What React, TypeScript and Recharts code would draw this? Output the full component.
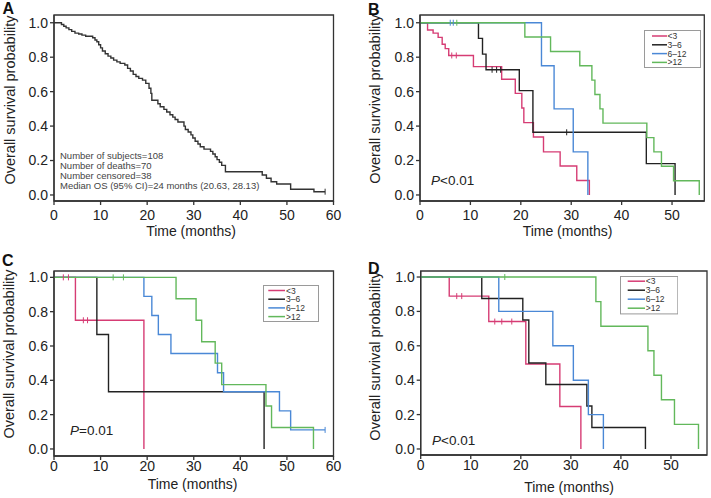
import React from 'react';
import { LineChart, Line, XAxis, YAxis, ReferenceArea, Legend } from 'recharts';

const FONT = '"Liberation Sans", Arial, Helvetica, sans-serif';

const COLOR_LT3 = '#d63c74';
const COLOR_3_6 = '#222222';
const COLOR_6_12 = '#4a88d6';
const COLOR_GT12 = '#62b85b';
const COLOR_ALL = '#333333';

const Y_TICKS = [0, 0.2, 0.4, 0.6, 0.8, 1.0];
const X_TICKS_60 = [0, 10, 20, 30, 40, 50, 60];
const X_TICKS_50 = [0, 10, 20, 30, 40, 50];
const GROUP_NAMES = ['<3', '3\u20136', '6\u201312', '>12'];

// ---------- Panel A (all patients) ----------
const aTimes = [0, 1.6, 2.1, 2.6, 3.2, 3.8, 4.5, 5.3, 6.0, 6.8, 8.3, 8.8, 9.2, 9.6, 10.0, 10.4, 11.0, 11.6, 12.2, 12.8, 13.5, 14.2, 15.2, 15.8, 16.4, 17.0, 17.6, 18.2, 19.0, 19.7, 20.4, 20.8, 21.0, 22.3, 22.8, 23.6, 24.2, 24.9, 25.5, 26.0, 26.6, 27.9, 28.2, 28.8, 29.4, 29.8, 30.3, 30.9, 31.4, 32.2, 33.6, 34.1, 34.6, 35.0, 35.5, 36.0, 36.8, 44.7, 45.6, 46.6, 47.8, 50.8, 55.8];
const aSurv = [1.0, 0.99, 0.98, 0.97, 0.96, 0.95, 0.94, 0.935, 0.928, 0.922, 0.913, 0.9, 0.89, 0.872, 0.854, 0.836, 0.82, 0.806, 0.795, 0.783, 0.773, 0.764, 0.755, 0.735, 0.72, 0.7, 0.688, 0.677, 0.667, 0.648, 0.62, 0.59, 0.55, 0.53, 0.512, 0.497, 0.482, 0.466, 0.452, 0.438, 0.424, 0.4, 0.38, 0.366, 0.349, 0.331, 0.312, 0.296, 0.28, 0.266, 0.253, 0.238, 0.222, 0.205, 0.19, 0.172, 0.135, 0.116, 0.097, 0.077, 0.064, 0.033, 0.019];
const aCensored = [58.2];

// ---------- Panel B ----------
const bLt3Times = [0, 1.5, 2.6, 3.6, 4.4, 5.0, 5.7, 10.6, 16.2, 18.9, 20.2, 20.6, 22.5, 24.5, 27.8, 31.1, 33.6];
const bLt3Surv = [1, 0.958, 0.94, 0.915, 0.875, 0.85, 0.81, 0.745, 0.672, 0.59, 0.505, 0.42, 0.337, 0.25, 0.168, 0.084, 0];
const bLt3Cens = [6.3, 7.2];
const b36Times = [0, 11.6, 12.4, 13.1, 19.7, 22.4, 44.9, 50.6];
const b36Surv = [1, 0.909, 0.818, 0.727, 0.606, 0.364, 0.182, 0];
const b36Cens = [14.3, 15.2, 16.0, 29.1];
const b612Times = [0, 24.1, 26.6, 30.4, 33.3];
const b612Surv = [1, 0.75, 0.5, 0.25, 0];
const b612Cens = [6.0, 6.6];
const bGt12Times = [0, 20.8, 25.9, 31.7, 34.1, 34.7, 35.7, 36.3, 45.0, 46.4, 47.9, 50.3, 55.4];
const bGt12Surv = [1, 0.917, 0.833, 0.75, 0.667, 0.583, 0.5, 0.417, 0.333, 0.25, 0.167, 0.083, 0];
const bGt12Cens = [7.3];

// ---------- Panel C ----------
const cLt3Times = [0, 4.6, 19.3];
const cLt3Surv = [1, 0.75, 0];
const cLt3Cens = [2.0, 3.1, 6.3, 7.2];
const c36Times = [0, 9.2, 11.7, 45.1];
const c36Surv = [1, 0.667, 0.333, 0];
const c36Cens: number[] = [];
const c612Times = [0, 19.3, 21.0, 22.4, 25.1, 35.1, 36.4, 48.4, 50.8];
const c612Surv = [1, 0.889, 0.778, 0.667, 0.556, 0.444, 0.333, 0.222, 0.111];
const c612Cens = [58.2];
const cGt12Times = [0, 26.2, 30.5, 31.7, 34.6, 36.0, 45.5, 46.7, 55.7];
const cGt12Surv = [1, 0.875, 0.75, 0.625, 0.5, 0.375, 0.25, 0.125, 0];
const cGt12Cens = [12.7, 14.9];

// ---------- Panel D ----------
const dLt3Times = [0, 5.7, 13.6, 21.0, 27.8, 32.0];
const dLt3Surv = [1, 0.889, 0.741, 0.494, 0.247, 0];
const dLt3Cens = [7.2, 8.2, 14.8, 16.2, 18.2];
const d36Times = [0, 12.2, 20.4, 21.6, 25.0, 33.2, 34.2, 44.9];
const d36Surv = [1, 0.875, 0.75, 0.5, 0.375, 0.25, 0.125, 0];
const d36Cens: number[] = [];
const d612Times = [0, 15.6, 26.4, 30.5, 33.5, 36.5];
const d612Surv = [1, 0.8, 0.6, 0.4, 0.2, 0];
const d612Cens: number[] = [];
const dGt12Times = [0, 35.0, 36.0, 45.4, 46.6, 48.1, 50.7, 55.5];
const dGt12Surv = [1, 0.857, 0.714, 0.571, 0.429, 0.286, 0.143, 0];
const dGt12Cens = [16.8];

type Pt = { t: number; s: number; c?: boolean };

function km(times: number[], surv: number[], cens: number[] = []): Pt[] {
  const pts: Pt[] = times.map((t, i) => ({ t, s: surv[i] }));
  cens.forEach((ct) => {
    let s = surv[0];
    for (let i = 0; i < times.length; i++) if (times[i] <= ct) s = surv[i];
    pts.push({ t: ct, s, c: true });
  });
  return pts.sort((a, b) => a.t - b.t);
}

type Series = { name: string; color: string; data: Pt[] };

const censorDot = (color: string) => (props: any) => {
  const { cx, cy, payload, index } = props;
  if (!payload || !payload.c) return <g key={`e${index}`} />;
  return (
    <line key={`c${index}`} x1={cx} x2={cx} y1={cy - 3} y2={cy + 3} stroke={color} strokeWidth={1} />
  );
};

type LegendCfg = { x: number; y: number; w: number; h: number; y0: number; dy: number; lx1: number; lx2: number; tx: number };

type PanelProps = {
  left: number; top: number; w: number; h: number;
  margin: { top: number; right: number; bottom: number; left: number };
  yW: number; xH: number; xTickGap: number;
  xDomain: [number, number]; xTicks: number[];
  yDomain: [number, number];
  series: Series[];
  legend?: LegendCfg;
};

function Panel(p: PanelProps) {
  const axisStyle = { stroke: '#333', strokeWidth: 1.3 };
  const tickStyle = { fill: '#222', fontSize: 14, fontFamily: FONT };
  return (
    <div style={{ position: 'absolute', left: p.left, top: p.top }}>
      <LineChart width={p.w} height={p.h} margin={p.margin}>
        <XAxis
          type="number"
          dataKey="t"
          domain={p.xDomain}
          ticks={p.xTicks}
          allowDataOverflow
          interval={0}
          height={p.xH}
          tickSize={4}
          tickMargin={p.xTickGap}
          tick={tickStyle}
          axisLine={axisStyle}
          tickLine={axisStyle}
        />
        <YAxis
          type="number"
          dataKey="s"
          domain={p.yDomain}
          ticks={Y_TICKS}
          allowDataOverflow
          interval={0}
          width={p.yW}
          tickSize={4}
          tickMargin={2}
          tickFormatter={(v: number) => v.toFixed(1)}
          tick={tickStyle}
          axisLine={axisStyle}
          tickLine={axisStyle}
        />
        <ReferenceArea
          x1={p.xDomain[0]}
          x2={p.xDomain[1]}
          y1={p.yDomain[0]}
          y2={p.yDomain[1]}
          fill="none"
          stroke="#333"
          strokeWidth={1.3}
          ifOverflow="visible"
        />
        {p.series.map((s) => (
          <Line
            key={s.name}
            name={s.name}
            data={s.data}
            dataKey="s"
            type="stepAfter"
            stroke={s.color}
            strokeWidth={1.4}
            dot={censorDot(s.color)}
            activeDot={false}
            isAnimationActive={false}
          />
        ))}
        {p.legend && (
          <Legend
            layout="vertical"
            align="center"
            verticalAlign="middle"
            wrapperStyle={{ left: p.legend.x, top: p.legend.y, width: p.legend.w, height: p.legend.h, margin: 0, padding: 0 }}
            content={() => {
              const L = p.legend as LegendCfg;
              return (
                <svg width={L.w} height={L.h} style={{ display: 'block' }}>
                  <rect x={0.5} y={0.5} width={L.w - 1} height={L.h - 1} fill="#fff" stroke="#9a9a9a" strokeWidth={1} />
                  {p.series.map((s, i) => (
                    <g key={s.name}>
                      <line x1={L.lx1} x2={L.lx2} y1={L.y0 + i * L.dy} y2={L.y0 + i * L.dy} stroke={s.color} strokeWidth={1.5} />
                      <text x={L.tx} y={L.y0 + i * L.dy + 3} fontSize={8.5} fill="#333" fontFamily={FONT}>{s.name}</text>
                    </g>
                  ))}
                </svg>
              );
            }}
          />
        )}
      </LineChart>
    </div>
  );
}

const seriesA: Series[] = [{ name: 'All', color: COLOR_ALL, data: km(aTimes, aSurv, aCensored) }];
const seriesB: Series[] = [
  { name: GROUP_NAMES[0], color: COLOR_LT3, data: km(bLt3Times, bLt3Surv, bLt3Cens) },
  { name: GROUP_NAMES[1], color: COLOR_3_6, data: km(b36Times, b36Surv, b36Cens) },
  { name: GROUP_NAMES[2], color: COLOR_6_12, data: km(b612Times, b612Surv, b612Cens) },
  { name: GROUP_NAMES[3], color: COLOR_GT12, data: km(bGt12Times, bGt12Surv, bGt12Cens) },
];
const seriesC: Series[] = [
  { name: GROUP_NAMES[0], color: COLOR_LT3, data: km(cLt3Times, cLt3Surv, cLt3Cens) },
  { name: GROUP_NAMES[1], color: COLOR_3_6, data: km(c36Times, c36Surv, c36Cens) },
  { name: GROUP_NAMES[2], color: COLOR_6_12, data: km(c612Times, c612Surv, c612Cens) },
  { name: GROUP_NAMES[3], color: COLOR_GT12, data: km(cGt12Times, cGt12Surv, cGt12Cens) },
];
const seriesD: Series[] = [
  { name: GROUP_NAMES[0], color: COLOR_LT3, data: km(dLt3Times, dLt3Surv, dLt3Cens) },
  { name: GROUP_NAMES[1], color: COLOR_3_6, data: km(d36Times, d36Surv, d36Cens) },
  { name: GROUP_NAMES[2], color: COLOR_6_12, data: km(d612Times, d612Surv, d612Cens) },
  { name: GROUP_NAMES[3], color: COLOR_GT12, data: km(dGt12Times, dGt12Surv, dGt12Cens) },
];

const annotationLines = [
  'Number of subjects=108',
  'Number of deaths=70',
  'Number censored=38',
  'Median OS (95% CI)=24 months (20.63, 28.13)',
];

function YTitle({ x, y }: { x: number; y: number }) {
  return (
    <text x={x} y={y} transform={`rotate(-90 ${x} ${y})`} textAnchor="middle" dominantBaseline="central" fontSize={14.5} fill="#222" fontFamily={FONT}>
      Overall survival probability
    </text>
  );
}
function XTitle({ x, y }: { x: number; y: number }) {
  return (
    <text x={x} y={y} textAnchor="middle" fontSize={14} fill="#222" fontFamily={FONT}>
      Time (months)
    </text>
  );
}
function PValue({ x, y, rel }: { x: number; y: number; rel: string }) {
  return (
    <text x={x} y={y} fontSize={13.5} fill="#222" fontFamily={FONT}>
      <tspan fontStyle="italic">P</tspan>
      {rel}
    </text>
  );
}

export default function App() {
  return (
    <div style={{ position: 'absolute', left: 0, top: 0, width: 711, height: 498, background: '#fff', overflow: 'hidden' }}>
      <Panel
        left={0} top={0} w={355} h={248}
        margin={{ top: 15, right: 21.5, bottom: 0, left: 0 }}
        yW={54} xH={47} xTickGap={5}
        xDomain={[0, 60]} xTicks={X_TICKS_60}
        yDomain={[-0.035, 1.045]}
        series={seriesA}
      />
      <Panel
        left={355} top={0} w={356} h={248}
        margin={{ top: 15, right: 6.7, bottom: 0, left: 0 }}
        yW={65} xH={47} xTickGap={5}
        xDomain={[0, 56.4]} xTicks={X_TICKS_50}
        yDomain={[-0.035, 1.045]}
        series={seriesB}
        legend={{ x: 288.5, y: 30, w: 57, h: 38, y0: 6, dy: 8.8, lx1: 8, lx2: 23, tx: 23.5 }}
      />
      <Panel
        left={0} top={248} w={355} h={250}
        margin={{ top: 23, right: 21.5, bottom: 0, left: 0 }}
        yW={54} xH={42} xTickGap={1}
        xDomain={[0, 60]} xTicks={X_TICKS_60}
        yDomain={[-0.041, 1.037]}
        series={seriesC}
        legend={{ x: 263, y: 37, w: 56, h: 37, y0: 5.5, dy: 8.7, lx1: 5.3, lx2: 22, tx: 23 }}
      />
      <Panel
        left={355} top={248} w={356} h={250}
        margin={{ top: 23, right: 4, bottom: 0, left: 0 }}
        yW={65.7} xH={43} xTickGap={1}
        xDomain={[0, 57.2]} xTicks={X_TICKS_50}
        yDomain={[-0.035, 1.035]}
        series={seriesD}
        legend={{ x: 265, y: 28.3, w: 58.3, h: 38.4, y0: 5.2, dy: 9, lx1: 7.7, lx2: 25, tx: 25.7 }}
      />
      <svg width={711} height={498} style={{ position: 'absolute', left: 0, top: 0, pointerEvents: 'none' }}>
        <g fontFamily={FONT} fontWeight="bold" fontSize={16} fill="#111">
          <text x={2.5} y={14}>A</text>
          <text x={368} y={15}>B</text>
          <text x={2} y={266}>C</text>
          <text x={368} y={274}>D</text>
        </g>
        <YTitle x={9.5} y={100} />
        <YTitle x={375} y={99} />
        <YTitle x={9} y={354} />
        <YTitle x={375} y={356} />
        <XTitle x={191} y={236} />
        <XTitle x={567.5} y={236} />
        <XTitle x={192.5} y={489} />
        <XTitle x={569} y={492} />
        {annotationLines.map((ln, i) => (
          <text key={ln} x={60} y={158.5 + i * 10} fontSize={9.5} fill="#444" fontFamily={FONT}>{ln}</text>
        ))}
        <PValue x={431} y={185} rel="<0.01" />
        <PValue x={70} y={434.5} rel="=0.01" />
        <PValue x={432} y={445} rel="<0.01" />
      </svg>
    </div>
  );
}
